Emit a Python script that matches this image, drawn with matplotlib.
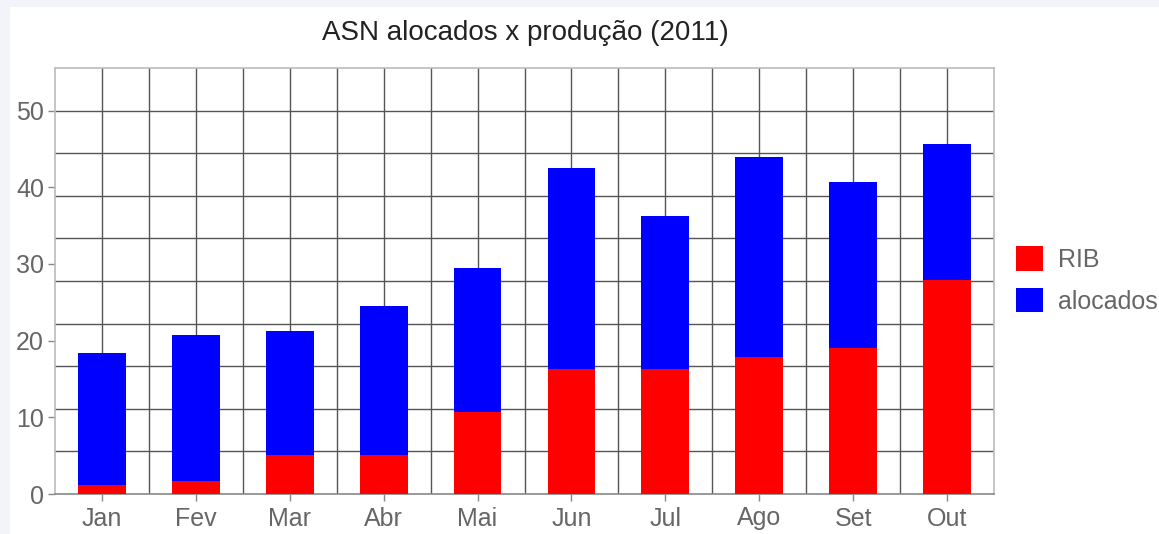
import matplotlib.pyplot as plt
import matplotlib.patches as mpatches
import numpy as np

meses = ['Jan', 'Fev', 'Mar', 'Abr', 'Mai', 'Jun', 'Jul', 'Ago', 'Set', 'Out']
rib = [1.2, 1.65, 5.05, 5.05, 10.7, 16.25, 16.25, 17.9, 19.0, 27.9]
alocados = [17.2, 19.05, 16.2, 19.45, 18.8, 26.2, 20.05, 26.1, 21.7, 17.8]
yticks = [0, 10, 20, 30, 40, 50]

plt.rcParams['font.family'] = ['Liberation Sans', 'DejaVu Sans']

fig = plt.figure(figsize=(11.59, 5.34), dpi=100, facecolor='#f2f4f9')
# white canvas with a thin light strip on the left and top
fig.patches.append(mpatches.Rectangle((10 / 1159, 0), 1, 1 - 7 / 534,
                                      transform=fig.transFigure,
                                      facecolor='white', edgecolor='none', zorder=-10))

ax = fig.add_axes([55 / 1159, 40 / 534, 939 / 1159, 426 / 534])
ax.set_facecolor('white')

x = np.arange(len(meses))
ax.bar(x, rib, width=0.51, color='#ff0000', label='RIB', zorder=3)
ax.bar(x, alocados, width=0.51, bottom=rib, color='#0000ff', label='alocados', zorder=3)

ymax = 500 / 9
ax.set_xlim(-0.5, len(meses) - 0.5)
ax.set_ylim(0, ymax)

# grid: vertical lines at every half category, horizontal every 50/9
for gx in np.arange(0, len(meses) - 0.5, 0.5):
    ax.axvline(gx, color='#555555', linewidth=1.0, zorder=1)
for gy in np.linspace(0, 50, 10)[1:]:
    ax.axhline(gy, color='#555555', linewidth=1.0, zorder=1)

ax.set_xticks(x)
ax.set_xticklabels(meses)
ax.set_yticks(yticks)
ax.tick_params(axis='both', colors='#888888', labelcolor='#666666',
               labelsize=18, length=5, width=1, direction='out')
ax.tick_params(axis='x', pad=4)
ax.tick_params(axis='y', pad=3)

for s in ax.spines.values():
    s.set_color('#bbbbbb')
    s.set_linewidth(1.2)
ax.spines['bottom'].set_color('#888888')

fig.text(525 / 1159, 1 - 33 / 534, 'ASN alocados x produção (2011)',
         ha='center', va='center', fontsize=20, color='#222222')

leg = fig.legend(loc='center left', bbox_to_anchor=(1016 / 1159, 1 - 280 / 534),
                 frameon=False, fontsize=18, handlelength=1.08, handleheight=1.12,
                 handletextpad=0.6, labelspacing=0.64, borderpad=0, borderaxespad=0)
for t in leg.get_texts():
    t.set_color('#666666')

plt.savefig('out.png', dpi=100, facecolor=fig.get_facecolor())
